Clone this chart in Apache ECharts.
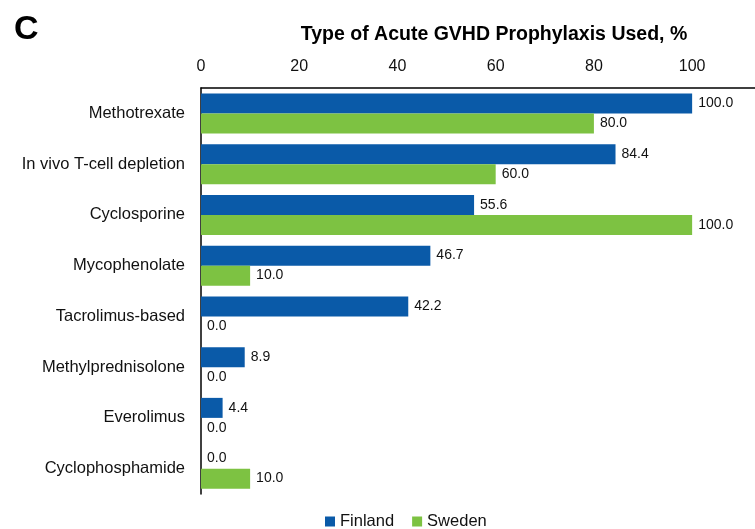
<!DOCTYPE html>
<html>
<head>
<meta charset="utf-8">
<script src="https://cdn.jsdelivr.net/npm/echarts@6/dist/echarts.min.js"></script>
<style>
	html, body { margin: 0; padding: 0; background: #fff; }
	#chart { width: 755px; height: 529px; }
</style>
</head>
<body>
<div id="chart"></div>
<script>
var categories = ['Methotrexate', 'In vivo T-cell depletion', 'Cyclosporine', 'Mycophenolate',
	'Tacrolimus-based', 'Methylprednisolone', 'Everolimus', 'Cyclophosphamide'];
var finland = [100.0, 84.4, 55.6, 46.7, 42.2, 8.9, 4.4, 0.0];
var sweden = [80.0, 60.0, 100.0, 10.0, 0.0, 0.0, 0.0, 10.0];
var xTicks = [0, 20, 40, 60, 80, 100];

var chart = echarts.init(document.getElementById('chart'));

var labelStyle = {
	show : true,
	position : 'right',
	distance : 6,
	color : '#111',
	fontFamily : 'Liberation Sans, Arial, sans-serif',
	fontSize : 14,
	formatter : function(p) {
		return p.value.toFixed(1);
	}
};

var option = {
	animation : false,
	textStyle : {
		fontFamily : 'Liberation Sans, Arial, sans-serif'
	},
	title : [ {
		text : 'C',
		left : 9,
		top : 8,
		textStyle : {
			fontSize : 34,
			fontWeight : 'bold',
			color : '#000'
		}
	}, {
		text : 'Type of Acute GVHD Prophylaxis Used, %',
		left : 489,
		textAlign : 'center',
		top : 20,
		textStyle : {
			fontSize : 19.5,
			fontWeight : 'bold',
			color : '#000'
		}
	} ],
	legend : {
		top : 508,
		left : 320,
		itemWidth : 10,
		itemHeight : 10,
		itemGap : 18,
		icon : 'rect',
		textStyle : {
			fontSize : 16.5,
			color : '#111'
		},
		data : [ 'Finland', 'Sweden' ]
	},
	grid : {
		left : 201,
		right : 0,
		top : 88,
		bottom : 35
	},
	xAxis : {
		type : 'value',
		position : 'top',
		min : 0,
		max : 112.8,
		interval : 20,
		axisLine : {
			show : true,
			lineStyle : {
				color : '#000',
				width : 1.5
			}
		},
		axisTick : {
			show : false
		},
		splitLine : {
			show : false
		},
		axisLabel : {
			fontSize : 16,
			color : '#111',
			margin : 13,
			showMaxLabel : false,
			formatter : function(v) {
				return xTicks.indexOf(v) >= 0 ? String(v) : '';
			}
		}
	},
	yAxis : {
		type : 'category',
		inverse : true,
		data : categories,
		axisLine : {
			show : true,
			lineStyle : {
				color : '#000',
				width : 1.5
			}
		},
		axisTick : {
			show : false
		},
		axisLabel : {
			fontSize : 16.5,
			color : '#111',
			margin : 16
		}
	},
	series : [ {
		name : 'Finland',
		type : 'bar',
		data : finland,
		barWidth : 20,
		barGap : '0%',
		itemStyle : {
			color : '#0a5aa8'
		},
		label : labelStyle
	}, {
		name : 'Sweden',
		type : 'bar',
		data : sweden,
		barWidth : 20,
		barGap : '0%',
		itemStyle : {
			color : '#7dc242'
		},
		label : labelStyle
	} ]
};

chart.setOption(option);
</script>
</body>
</html>
